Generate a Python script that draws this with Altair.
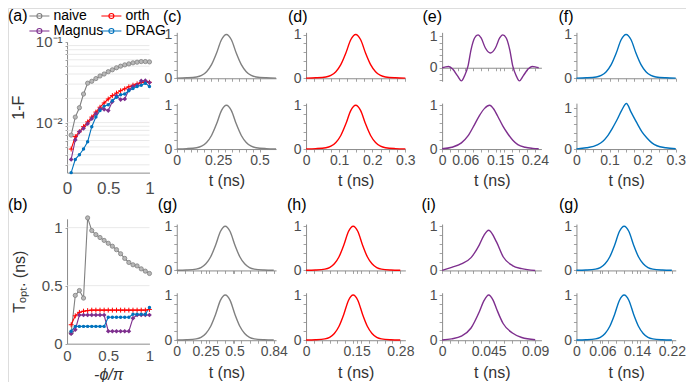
import altair as alt
import pandas as pd
import numpy as np

# ---------------- values ----------------
METHODS = ["naive", "orth", "Magnus", "DRAG"]
COLORS = ["#808080", "#ff0000", "#7e2f8e", "#0072bd"]
LEGEND_ORDER = ["naive", "Magnus", "orth", "DRAG"]
LEGEND_COLORS = ["#808080", "#7e2f8e", "#ff0000", "#0072bd"]

phi = [0.05, 0.10, 0.15, 0.20, 0.25, 0.30, 0.35, 0.40, 0.45, 0.50,
       0.55, 0.60, 0.65, 0.70, 0.75, 0.80, 0.85, 0.90, 0.95, 1.00]

# (a) infidelity 1-F
infid_naive = [0.0070, 0.0117, 0.0153, 0.0226, 0.0308, 0.0325, 0.0351, 0.0378, 0.0400, 0.0427,
               0.0451, 0.0478, 0.0500, 0.0519, 0.0534, 0.0550, 0.0560, 0.0570, 0.0570, 0.0565]
infid_orth = [0.0047, 0.0067, 0.0077, 0.0089, 0.0102, 0.0117, 0.0135, 0.0155, 0.0175, 0.0196,
              0.0216, 0.0232, 0.0248, 0.0262, 0.0278, 0.0291, 0.0302, 0.0313, 0.0319, 0.0316]
infid_magnus = [0.0035, 0.0061, 0.0077, 0.0085, 0.0097, 0.0112, 0.0129, 0.0148, 0.0146, 0.0141,
                0.0182, 0.0215, 0.0193, 0.0196, 0.0255, 0.0280, 0.0291, 0.0328, 0.0331, 0.0313]
infid_drag = [0.0024, 0.0035, 0.0040, 0.0047, 0.0058, 0.0089, 0.0117, 0.0141, 0.0160, 0.0166,
              0.0187, 0.0206, 0.0222, 0.0226, 0.0248, 0.0265, 0.0280, 0.0291, 0.0308, 0.0280]

# (b) optimal gate time
topt_naive = [0.093, 0.416, 0.458, 0.393, 1.084, 0.975, 0.940, 0.915, 0.890, 0.865,
              0.840, 0.810, 0.775, 0.735, 0.700, 0.680, 0.670, 0.645, 0.625, 0.605]
topt_orth = [0.163, 0.240, 0.270, 0.280, 0.285, 0.289, 0.289, 0.289, 0.289, 0.289,
             0.289, 0.289, 0.289, 0.289, 0.289, 0.289, 0.289, 0.289, 0.289, 0.295]
topt_magnus = [0.087, 0.121, 0.247, 0.247, 0.247, 0.247, 0.247, 0.247, 0.247, 0.107,
               0.107, 0.107, 0.107, 0.107, 0.107, 0.220, 0.247, 0.247, 0.247, 0.247]
topt_drag = [0.107, 0.149, 0.149, 0.149, 0.149, 0.149, 0.149, 0.149, 0.149, 0.228,
             0.228, 0.228, 0.228, 0.228, 0.228, 0.253, 0.253, 0.253, 0.253, 0.312]

grid_a = [0.003, 0.004, 0.005, 0.006, 0.007, 0.008, 0.009, 0.01,
          0.02, 0.03, 0.04, 0.05, 0.06, 0.07, 0.08, 0.09]
grid_b = [0.5, 1.0]

# pulse envelopes (normalised amplitude vs t in ns)
pulse_sech = [0.004, 0.01, 0.03, 0.065, 0.15, 0.31, 0.57, 0.88, 1.0,
              0.88, 0.57, 0.31, 0.15, 0.065, 0.03, 0.01, 0.004]
t_c = [0, 0.06, 0.12, 0.15, 0.18, 0.21, 0.24, 0.27, 0.30, 0.33, 0.36, 0.39, 0.42, 0.45, 0.48, 0.54, 0.60]
t_d = [0, 0.03, 0.06, 0.075, 0.09, 0.105, 0.12, 0.135, 0.15, 0.165, 0.18, 0.195, 0.21, 0.225, 0.24, 0.27, 0.30]
t_g = [0, 0.084, 0.168, 0.21, 0.252, 0.294, 0.336, 0.378, 0.42, 0.462, 0.504, 0.546, 0.588, 0.63, 0.672, 0.756, 0.84]
t_h = [0, 0.028, 0.056, 0.07, 0.084, 0.098, 0.112, 0.126, 0.14, 0.154, 0.168, 0.182, 0.196, 0.21, 0.224, 0.252, 0.28]
t_g2 = [0, 0.022, 0.044, 0.055, 0.066, 0.077, 0.088, 0.099, 0.11, 0.121, 0.132, 0.143, 0.154, 0.165, 0.176, 0.198, 0.22]

t_e_top = [0, 0.007, 0.017, 0.028, 0.04, 0.05, 0.058, 0.067, 0.075, 0.084, 0.093, 0.101, 0.112, 0.125,
           0.138, 0.149, 0.157, 0.166, 0.175, 0.183, 0.192, 0.2, 0.21, 0.222, 0.233, 0.243, 0.25]
y_e_top = [0, 0.02, 0.04, -0.05, -0.26, -0.42, -0.26, 0.05, 0.58, 0.95, 1.05, 0.95, 0.63, 0.47,
           0.63, 0.95, 1.05, 0.95, 0.58, 0.05, -0.26, -0.42, -0.26, -0.05, 0.04, 0.02, 0]
t_e_bot = [0, 0.025, 0.05, 0.067, 0.084, 0.097, 0.11, 0.123, 0.134, 0.144, 0.157, 0.17, 0.183, 0.196, 0.215, 0.235, 0.25]
y_e_bot = [0.005, 0.04, 0.14, 0.30, 0.56, 0.77, 0.93, 1.0, 0.91, 0.75, 0.53, 0.35, 0.20, 0.10, 0.04, 0.015, 0.005]
t_f_bot = [0, 0.03, 0.063, 0.08, 0.093, 0.108, 0.123, 0.137, 0.151, 0.165, 0.183, 0.198, 0.213, 0.228, 0.243, 0.27, 0.30]
y_f_bot = [0.005, 0.03, 0.10, 0.19, 0.31, 0.50, 0.72, 0.95, 1.11, 0.90, 0.63, 0.42, 0.27, 0.15, 0.08, 0.03, 0.008]
t_i_top = [0, 0.0093, 0.0186, 0.028, 0.036, 0.0406, 0.045, 0.0527, 0.059, 0.068, 0.077, 0.09]
y_i_top = [0.0, 0.07, 0.146, 0.29, 0.58, 0.80, 0.91, 0.64, 0.31, 0.11, 0.04, 0.0]
t_i_bot = [0, 0.0093, 0.0186, 0.028, 0.036, 0.0406, 0.045, 0.0494, 0.0527, 0.059, 0.068, 0.077, 0.09]
y_i_bot = [0.005, 0.03, 0.09, 0.27, 0.63, 0.88, 1.0, 0.88, 0.69, 0.37, 0.16, 0.06, 0.01]

# tick labels of the pulse panels
lab_c = [0, 0.25, 0.5];        txt_c = ["0", "0.25", "0.5"]
lab_d = [0, 0.1, 0.2, 0.3];    txt_d = ["0", "0.1", "0.2", "0.3"]
lab_e = [0, 0.06, 0.15, 0.24]; txt_e = ["0", "0.06", "0.15", "0.24"]
lab_f = [0, 0.1, 0.2, 0.3];    txt_f = ["0", "0.1", "0.2", "0.3"]
lab_g = [0, 0.25, 0.5, 0.84];  txt_g = ["0", "0.25", "0.5", "0.84"]
lab_h = [0, 0.15, 0.28];       txt_h = ["0", "0.15", "0.28"]
lab_i = [0, 0.045, 0.09];      txt_i = ["0", "0.045", "0.09"]
lab_g2 = [0, 0.06, 0.14, 0.22]; txt_g2 = ["0", "0.06", "0.14", "0.22"]

# ---------------- layout helpers ----------------
W, H = 678, 374
def PX(v): return 0.993 * v + 1.5 - 8     # reference page x -> chart x
def PY(v): return 0.983 * v + 0.6 - 8     # reference page y -> chart y

FONT = "Liberation Sans"
AXC = "#8c8c8c"
LBC = "#4d4d4d"
TTC = "#333333"

AX = dict(domainColor=AXC, domainWidth=1, tickColor=AXC, tickWidth=0.8, tickSize=3,
          labelFont=FONT, labelFontSize=14, labelColor=LBC, grid=False,
          labelFlush=False, labelOverlap=False, titleFont=FONT, titleFontSize=16,
          titleFontWeight="normal", titleColor=TTC)


def lab_expr(vals, texts):
    s = ""
    for v, t in zip(vals, texts):
        s += f"abs(datum.value - ({v})) < 1e-7 ? '{t}' : "
    return s + "''"


def pulse(t, y, color, xref, yref, xdom, ydom, xlab, xtxt, show_lab, title_ref=None):
    df = pd.DataFrame({"t": t, "y": y})
    x0, x1 = PX(xref[0]), PX(xref[1])
    yb, yt = PY(yref[0]), PY(yref[1])
    y0 = yb + (0 - ydom[0]) / (ydom[1] - ydom[0]) * (yt - yb)
    xvals = sorted({round(float(v), 6) for v in list(np.linspace(0, xlab[-1], 13)) + list(xlab)})
    yvals = [v for v in [-0.4, -0.2, 0, 0.2, 0.4, 0.6, 0.8, 1.0] if ydom[0] - 1e-9 <= v <= ydom[1] + 1e-9]
    xkw = dict(AX)
    if show_lab:
        xkw.update(titleY=PY(title_ref) - y0, titleBaseline="middle")
    xaxis = alt.Axis(orient="bottom", offset=y0 - H, values=xvals, labels=show_lab,
                     labelExpr=lab_expr(xlab, xtxt), labelPadding=1, **xkw)
    yaxis = alt.Axis(orient="left", offset=-x0, values=yvals,
                     labelExpr=lab_expr([0, 1], ["0", "1"]), labelPadding=2, **AX)
    return alt.Chart(df).mark_line(color=color, strokeWidth=1.4, interpolate="monotone").encode(
        x=alt.X("t:Q", scale=alt.Scale(domain=list(xdom), range=[x0, x1], nice=False, zero=False),
                axis=xaxis, title="t (ns)" if show_lab else None),
        y=alt.Y("y:Q", scale=alt.Scale(domain=list(ydom), range=[yb, yt], nice=False, zero=False),
                axis=yaxis, title=None),
    )


def label(txt, page_x, page_y):
    return alt.Chart(pd.DataFrame({"s": [txt]})).mark_text(
        align="left", baseline="middle", fontSize=16, font=FONT, color="black"
    ).encode(text="s:N", x=alt.value(page_x - 8), y=alt.value(page_y - 8))


# ---------------- legend (line + marker symbol) ----------------
P_LEG = "M-2.0,0H2.0M0.5,0A0.5,0.5,0,1,1,-0.5,0A0.5,0.5,0,1,1,0.5,0Z"
LEG = alt.Legend(title=None, orient="none", legendX=24.4, legendY=1, columns=2,
                 columnPadding=-5, rowPadding=1, symbolSize=100, labelOffset=7,
                 symbolType=P_LEG, symbolFillColor="white", symbolStrokeWidth=1.1,
                 labelFontSize=14, labelFont=FONT, labelColor="black", padding=0)

MARKS = {
    "naive": dict(shape="circle", filled=True, size=18, fill="#b8b8b8", stroke="#808080", strokeWidth=0.8),
    "orth": dict(shape="M-1,0H1M0,-1V1", filled=False, size=24, stroke="#ff0000", strokeWidth=1),
    "Magnus": dict(shape="diamond", filled=True, size=22, color="#7e2f8e"),
    "DRAG": dict(shape="circle", filled=True, size=12, color="#0072bd"),
}


def method_panel(series, ytype, ydom, yref, yticks, ylab, ytxt, ytitle, grid, xtitle,
                 title_x_ref, title_y_ref, xlabsize, xlabpad, legend):
    n = len(phi)
    df = pd.DataFrame({"phi": phi * 4, "val": sum(series, []),
                       "method": sum([[m] * n for m in METHODS], [])})
    x0, x1 = PX(66), PX(149)
    yb, yt = PY(yref[0]), PY(yref[1])
    xs = alt.Scale(domain=[0, 1], range=[x0, x1], nice=False, zero=False)
    if ytype == "log":
        ys = alt.Scale(type="log", domain=ydom, range=[yb, yt], nice=False)
    else:
        ys = alt.Scale(domain=ydom, range=[yb, yt], nice=False, zero=False)
    xkw = dict(AX)
    xkw.update(ticks=False, labelFontSize=xlabsize)
    if xtitle is not None:
        xkw.update(titleY=PY(title_y_ref) - yb, titleBaseline="middle", titleFontStyle="italic")
    xaxis = alt.Axis(orient="bottom", offset=yb - H, values=[0, 0.5, 1],
                     labelExpr=lab_expr([0, 0.5, 1], ["0", "0.5", "1"]), labelPadding=xlabpad, **xkw)
    ykw = dict(AX)
    ykw.update(tickSize=2, labelFontSize=15)
    yaxis = alt.Axis(orient="left", offset=-x0, values=yticks, labelExpr=lab_expr(ylab, ytxt),
                     labelPadding=3, titleX=PX(title_x_ref) - x0, titleBaseline="middle", **ykw)
    X = alt.X("phi:Q", scale=xs, axis=xaxis, title=xtitle)
    Y = alt.Y("val:Q", scale=ys, axis=yaxis, title=ytitle)
    lines = alt.Chart(df).mark_line(strokeWidth=1.1).encode(
        x=X, y=Y,
        color=alt.Color("method:N", scale=alt.Scale(domain=LEGEND_ORDER, range=LEGEND_COLORS),
                        legend=legend),
    )
    gdf = pd.DataFrame({"val": grid})
    grid_layer = alt.Chart(gdf).mark_rule(color="#e3e3e3", strokeWidth=0.8).encode(
        y=alt.Y("val:Q", title=ytitle), x=alt.datum(0), x2=alt.datum(1))
    pts = []
    for m in METHODS:
        pts.append(alt.Chart(df).transform_filter(alt.datum.method == m)
                   .mark_point(opacity=1, **MARKS[m])
                   .encode(x=alt.X("phi:Q", title=xtitle), y=alt.Y("val:Q", title=ytitle)))
    return alt.layer(grid_layer, lines, *pts)


panel_a = method_panel([infid_naive, infid_orth, infid_magnus, infid_drag], "log", [0.0024, 0.1],
                       (175, 42), grid_a + [0.1], [0.01, 0.1], ["10⁻²", "10⁻¹"], "1-F", grid_a, None,
                       17.5, None, 17, 8, LEG)
panel_b = method_panel([topt_naive, topt_orth, topt_magnus, topt_drag], "linear", [0, 1.076],
                       (349, 222), [0, 0.5, 1], [0, 0.5, 1], ["0", "0.5", "1"], "Tₒₚₜ. (ns)", grid_b,
                       "-ϕ/π", 18, 380.5, 15, 5, None)

COL = [(176.5, 276.5), (306.7, 406.7), (443.7, 543.7), (579, 679)]
ROW_A, ROW_B = (79, 32.3), (151, 104.3)
ROW_C, ROW_D = (274.5, 227.3), (345.5, 297.2)
D1 = (0, 1.05)
GREY, RED, PUR, BLU = COLORS

pulses = [
    pulse(t_c, pulse_sech, GREY, COL[0], ROW_A, (0, 0.6), D1, lab_c, txt_c, False),
    pulse(t_c, pulse_sech, GREY, COL[0], ROW_B, (0, 0.6), D1, lab_c, txt_c, True, 183),
    pulse(t_d, pulse_sech, RED, COL[1], ROW_A, (0, 0.3), D1, lab_d, txt_d, False),
    pulse(t_d, pulse_sech, RED, COL[1], ROW_B, (0, 0.3), D1, lab_d, txt_d, True, 183),
    pulse(t_e_top, y_e_top, PUR, COL[2], (82, 32.3), (0, 0.257), (-0.43, 1.13), lab_e, txt_e, False),
    pulse(t_e_bot, y_e_bot, PUR, COL[2], ROW_B, (0, 0.257), D1, lab_e, txt_e, True, 183),
    pulse(t_d, pulse_sech, BLU, COL[3], ROW_A, (0, 0.3), D1, lab_f, txt_f, False),
    pulse(t_f_bot, y_f_bot, BLU, COL[3], ROW_B, (0, 0.3), (0, 1.12), lab_f, txt_f, True, 183),
    pulse(t_g, pulse_sech, GREY, COL[0], ROW_C, (0, 0.86), D1, lab_g, txt_g, False),
    pulse(t_g, pulse_sech, GREY, COL[0], ROW_D, (0, 0.86), D1, lab_g, txt_g, True, 378.5),
    pulse(t_h, pulse_sech, RED, COL[1], ROW_C, (0, 0.295), D1, lab_h, txt_h, False),
    pulse(t_h, pulse_sech, RED, COL[1], ROW_D, (0, 0.295), D1, lab_h, txt_h, True, 378.5),
    pulse(t_i_top, y_i_top, PUR, COL[2], ROW_C, (0, 0.096), D1, lab_i, txt_i, False),
    pulse(t_i_bot, y_i_bot, PUR, COL[2], ROW_D, (0, 0.096), D1, lab_i, txt_i, True, 378.5),
    pulse(t_g2, pulse_sech, BLU, COL[3], ROW_C, (0, 0.229), D1, lab_g2, txt_g2, False),
    pulse(t_g2, pulse_sech, BLU, COL[3], ROW_D, (0, 0.229), D1, lab_g2, txt_g2, True, 378.5),
]

labels = [
    label("(a)", 8, 16), label("(b)", 8, 205.4),
    label("(c)", 163, 16.5), label("(d)", 288, 16.5), label("(e)", 422.5, 16.5), label("(f)", 558.5, 16.5),
    label("(g)", 157.7, 205.4), label("(h)", 287, 205.4), label("(i)", 421.5, 205.4), label("(g)", 559, 205.4),
]

chart = alt.layer(panel_a, panel_b, *pulses, *labels).resolve_scale(
    x="independent", y="independent"
).properties(
    width=W, height=H, autosize=alt.AutoSizeParams(type="none"), padding=0
).configure_view(stroke="transparent").configure(font=FONT)

chart.save("out.html", embed_options={"renderer": "svg", "actions": False})
